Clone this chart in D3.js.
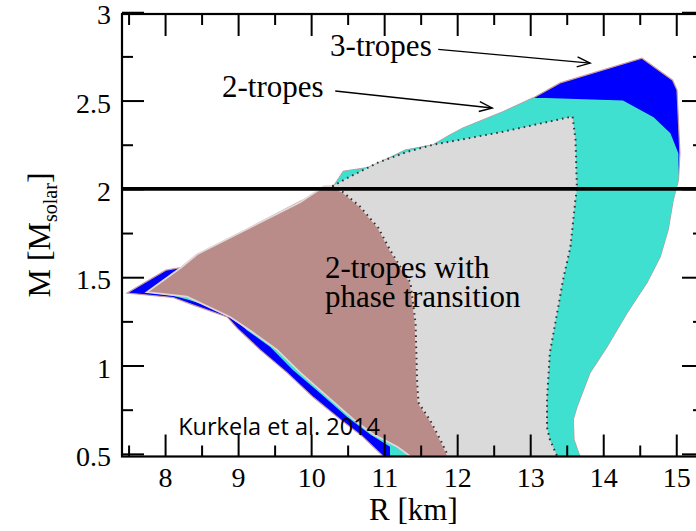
<!DOCTYPE html>
<html>
<head>
<meta charset="utf-8">
<script src="https://cdn.jsdelivr.net/npm/d3@7/dist/d3.min.js"></script>
<style>
body { margin: 0; background: #fff; overflow: hidden; }
text { font-family: "Liberation Serif", "DejaVu Serif", serif; fill: #000; }
</style>
</head>
<body>
<div class="svgContainer"></div>
<script>
// Ticks
var R_MAJOR = [8, 9, 10, 11, 12, 13, 14, 15];
var R_MINOR = [7.5, 8.5, 9.5, 10.5, 11.5, 12.5, 13.5, 14.5];
var M_MAJOR = [0.5, 1, 1.5, 2, 2.5, 3];
var M_MINOR = [0.75, 1.25, 1.75, 2.25, 2.75];
var M_LINE = 2;

// Region outlines as [R km, M solar]
var threeTropes = [[7.48,1.41],[8.01,1.54],[8.22,1.555],[8.44,1.63],[8.85,1.705],[9.16,1.78],[9.85,1.93],[10.30,2.01],
    [10.44,2.10],[10.77,2.12],[10.99,2.16],[11.29,2.22],[11.67,2.25],[11.90,2.305],[12.08,2.345],[12.59,2.43],
    [13.04,2.515],[13.41,2.60],[14.53,2.74],[14.95,2.615],[15.01,2.56],[15.05,2.20],[15.03,2.05],[14.96,1.94],
    [14.89,1.77],[14.78,1.615],[14.60,1.47],[14.33,1.30],[14.05,1.105],[13.82,0.96],[13.64,0.765],[13.59,0.695],
    [13.60,0.58],[13.68,0.485],[10.99,0.485],[10.70,0.60],[10.40,0.695],[10.03,0.82],[9.67,0.96],[9.30,1.09],
    [8.99,1.21],[8.85,1.275],[8.37,1.345],[8.11,1.385]];

var twoTropes = [[7.75,1.415],[8.18,1.545],[8.22,1.555],[8.44,1.63],[8.85,1.705],[9.16,1.78],[9.85,1.93],[10.30,2.01],
    [10.44,2.10],[10.77,2.12],[10.99,2.16],[11.29,2.22],[11.67,2.25],[11.90,2.305],[12.08,2.345],[12.59,2.43],
    [13.04,2.515],[13.21,2.515],[14.27,2.50],[14.69,2.405],[14.92,2.315],[15.03,2.20],[15.03,2.05],[14.96,1.94],
    [14.89,1.77],[14.78,1.615],[14.60,1.47],[14.33,1.30],[14.05,1.105],[13.82,0.96],[13.64,0.765],[13.59,0.695],
    [13.60,0.58],[13.68,0.485],[11.08,0.485],[11.08,0.54],[10.81,0.61],[10.49,0.71],[10.12,0.845],[9.75,0.975],
    [9.44,1.105],[9.12,1.20],[8.85,1.30],[8.34,1.37],[8.11,1.395]];

// 2-tropes with phase transition (grey)
var transitionTop = [[10.29,2.015],[10.49,2.06],[10.92,2.15],[11.32,2.21],[11.67,2.25],[12.59,2.32],[13.58,2.41]];
var transitionRight = [[13.62,2.28],[13.64,2.00],[13.62,1.94],[13.55,1.67],[13.45,1.485],[13.37,1.30],[13.27,1.075],
    [13.23,0.81],[13.23,0.65],[13.27,0.58],[13.37,0.485]];
// dotted line between the brown and grey parts, top to bottom
var transitionSplit = [[10.29,2.015],[10.44,1.98],[10.67,1.90],[10.92,1.78],[11.08,1.655],[11.22,1.56],[11.36,1.47],
    [11.43,1.24],[11.45,0.92],[11.47,0.79],[11.63,0.69],[11.77,0.58],[11.88,0.485]];

// brown part
var brownUpper = [[7.75,1.415],[8.22,1.555],[8.44,1.63],[9.16,1.78],[9.85,1.925],[10.18,2.015]];
var brownLower = [[11.36,0.485],[11.18,0.54],[10.85,0.61],[10.58,0.695],[10.22,0.825],[9.85,0.96],[9.53,1.09],
    [9.21,1.185],[8.89,1.275],[8.30,1.39]];

// Labels
var labels = [
    {text: "3-tropes", R: 10.26, M: 2.752},
    {text: "2-tropes", R: 8.78, M: 2.52},
    {text: "2-tropes with", R: 10.19, M: 1.496},
    {text: "phase transition", R: 10.19, M: 1.332}
];
var arrows = [
    [[11.74, 2.79], [13.82, 2.712]],
    [[10.33, 2.554], [12.48, 2.458]]
];
var credit = {text: "Kurkela et al. 2014", R: 8.18, M: 0.608};

//Define Margin
var margin = {left: 122, right: -8, top: 14, bottom: 74.5},
    width = 696 - margin.left - margin.right,
    height = 531 - margin.top - margin.bottom;

var svg = d3.select(".svgContainer").append("svg")
    .attr("width", 696)
    .attr("height", 531)
    .append("g")
    .attr("transform", "translate(" + margin.left + "," + margin.top + ")");

var scaleX = d3.scaleLinear()
    .domain([7.41, 15.38])
    .range([0, width]);

var scaleY = d3.scaleLinear()
    .domain([0.485, 2.99])
    .range([height, 0]);

var line = d3.line()
    .x(function(d) { return scaleX(d[0]); })
    .y(function(d) { return scaleY(d[1]); });

svg.append("clipPath").attr("id", "plotClip")
    .append("rect").attr("width", width).attr("height", height);

var plot = svg.append("g").attr("clip-path", "url(#plotClip)");

// 3-tropes (blue) then 2-tropes (turquoise)
plot.append("path")
    .attr("d", line(threeTropes) + "Z")
    .attr("fill", "#0000ff")
    .attr("stroke", "#c89a9a")
    .attr("stroke-width", 1.2);

plot.append("path")
    .attr("d", line(twoTropes) + "Z")
    .attr("fill", "#40e0d0");

// grey region
var greyPts = transitionTop.concat(transitionRight).concat(transitionSplit.slice().reverse());
plot.append("path")
    .attr("d", line(greyPts) + "Z")
    .attr("fill", "#dadada");

// brown region
var brownPts = brownUpper.concat(transitionSplit).concat(brownLower);
plot.append("path")
    .attr("d", line(brownPts) + "Z")
    .attr("fill", "#b98b89")
    .attr("stroke", "#e2d6d6")
    .attr("stroke-width", 1.8);

// dotted borders
plot.append("path")
    .attr("d", line(transitionTop.concat(transitionRight)))
    .attr("fill", "none")
    .attr("stroke", "#333")
    .attr("stroke-width", 2)
    .attr("stroke-dasharray", "1.6,4");
plot.append("path")
    .attr("d", line(transitionSplit))
    .attr("fill", "none")
    .attr("stroke", "#333")
    .attr("stroke-width", 2)
    .attr("stroke-dasharray", "1.6,4");

// M = 2 line
svg.append("line")
    .attr("x1", 0).attr("x2", width)
    .attr("y1", scaleY(M_LINE)).attr("y2", scaleY(M_LINE))
    .attr("stroke", "#000")
    .attr("stroke-width", 3.6);

// Axes, ticks pointing inwards on all four sides
function styleAxis(g) {
    g.select(".domain").remove();
    g.selectAll("line").attr("stroke", "#000").attr("stroke-width", 2);
    g.selectAll("text").style("font-family", "'Liberation Serif', serif").style("font-size", "28px").attr("fill", "#000");
}

svg.append("g").attr("transform", "translate(0," + height + ")")
    .call(d3.axisBottom(scaleX).tickValues(R_MAJOR).tickSize(-22).tickSizeOuter(0).tickPadding(11).tickFormat(d3.format("d")))
    .call(styleAxis);
svg.append("g").attr("transform", "translate(0," + height + ")")
    .call(d3.axisBottom(scaleX).tickValues(R_MINOR).tickSize(-11).tickSizeOuter(0).tickFormat(""))
    .call(styleAxis);
svg.append("g")
    .call(d3.axisTop(scaleX).tickValues(R_MAJOR).tickSize(-22).tickSizeOuter(0).tickFormat(""))
    .call(styleAxis);
svg.append("g")
    .call(d3.axisTop(scaleX).tickValues(R_MINOR).tickSize(-11).tickSizeOuter(0).tickFormat(""))
    .call(styleAxis);

var leftAxis = svg.append("g")
    .call(d3.axisLeft(scaleY).tickValues(M_MAJOR).tickSize(-22).tickSizeOuter(0).tickPadding(11).tickFormat(d3.format("")))
    .call(styleAxis);
leftAxis.selectAll("text").attr("dy", "0.42em");
svg.append("g")
    .call(d3.axisLeft(scaleY).tickValues(M_MINOR).tickSize(-11).tickSizeOuter(0).tickFormat(""))
    .call(styleAxis);
svg.append("g").attr("transform", "translate(" + width + ",0)")
    .call(d3.axisRight(scaleY).tickValues(M_MAJOR).tickSize(-22).tickSizeOuter(0).tickFormat(""))
    .call(styleAxis);
svg.append("g").attr("transform", "translate(" + width + ",0)")
    .call(d3.axisRight(scaleY).tickValues(M_MINOR).tickSize(-11).tickSizeOuter(0).tickFormat(""))
    .call(styleAxis);

// frame
svg.append("rect")
    .attr("width", width).attr("height", height)
    .attr("fill", "none")
    .attr("stroke", "#000")
    .attr("stroke-width", 2.2);

// Axis titles
svg.append("text")
    .attr("x", scaleX(11.4))
    .attr("y", height + 63.5)
    .attr("text-anchor", "middle")
    .style("font-size", "31px")
    .text("R [km]");

var yTitle = svg.append("text")
    .attr("transform", "translate(" + (50 - margin.left) + "," + (235 - margin.top) + ") rotate(-90)")
    .attr("text-anchor", "middle")
    .style("font-size", "32px");
yTitle.append("tspan").text("M [M");
yTitle.append("tspan").attr("dy", 7).style("font-size", "20px").text("solar");
yTitle.append("tspan").attr("dy", -7).text("]");

// Annotations
svg.append("defs").append("marker")
    .attr("id", "openArrow")
    .attr("viewBox", "0 0 16 12")
    .attr("markerUnits", "userSpaceOnUse")
    .attr("markerWidth", 16).attr("markerHeight", 12)
    .attr("refX", 14).attr("refY", 6)
    .attr("orient", "auto")
    .append("path")
    .attr("d", "M1,1 L14,6 L1,11")
    .attr("fill", "none")
    .attr("stroke", "#000")
    .attr("stroke-width", 1.4);

svg.selectAll(".arrow")
    .data(arrows)
    .enter().append("path")
    .attr("class", "arrow")
    .attr("d", function(d) { return line(d); })
    .attr("stroke", "#000")
    .attr("stroke-width", 1.4)
    .attr("fill", "none")
    .attr("marker-end", "url(#openArrow)");

svg.selectAll(".label")
    .data(labels)
    .enter().append("text")
    .attr("class", "label")
    .attr("x", function(d) { return scaleX(d.R); })
    .attr("y", function(d) { return scaleY(d.M); })
    .style("font-size", "31px")
    .text(function(d) { return d.text; });

svg.append("text")
    .attr("x", scaleX(credit.R))
    .attr("y", scaleY(credit.M))
    .style("font-family", "'Open Sans', sans-serif")
    .style("font-size", "23.5px")
    .text(credit.text);
</script>
</body>
</html>
